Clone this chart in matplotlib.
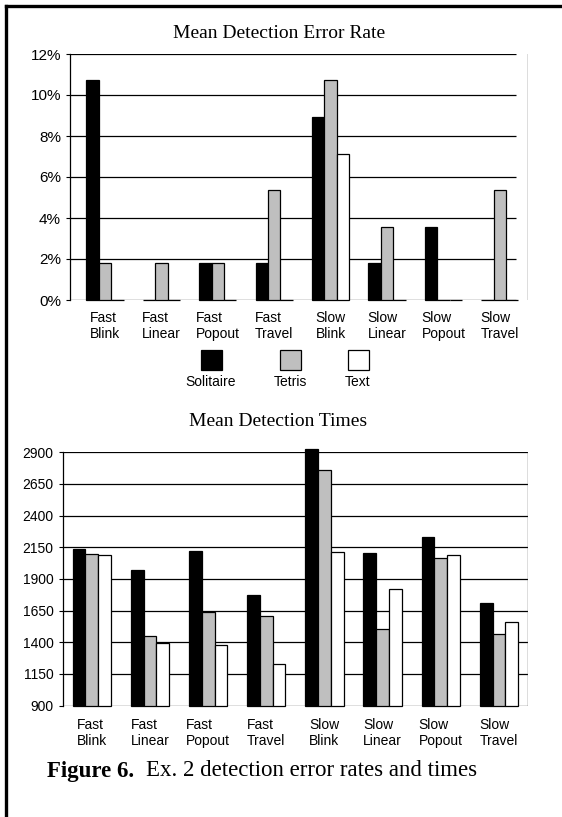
"""
Ex. 2 detection error rates and times (Figure 6): two grouped bar charts
stacked on one page, sharing a hand-drawn legend and a caption.
"""

import matplotlib
matplotlib.use("Agg")
import matplotlib.pyplot as plt
import numpy as np
from matplotlib.lines import Line2D
from matplotlib.patches import Rectangle

plt.rcParams["font.family"] = ["Liberation Sans", "DejaVu Sans"]

categories = ["Fast\nBlink", "Fast\nLinear", "Fast\nPopout", "Fast\nTravel",
              "Slow\nBlink", "Slow\nLinear", "Slow\nPopout", "Slow\nTravel"]
series_names = ["Solitaire", "Tetris", "Text"]

# mean detection error rate, percent
err_solitaire = [10.71, 0, 1.79, 1.79, 8.93, 1.79, 3.57, 0]
err_tetris = [1.79, 1.79, 1.79, 5.36, 10.71, 3.57, 0, 5.36]
err_text = [0, 0, 0, 0, 7.14, 0, 0, 0]

# mean detection times, ms
time_solitaire = [2136, 1968, 2120, 1775, 2926, 2107, 2233, 1707]
time_tetris = [2099, 1449, 1636, 1605, 2760, 1504, 2065, 1462]
time_text = [2086, 1391, 1375, 1228, 2112, 1818, 2086, 1560]

err_ticks = [0, 2, 4, 6, 8, 10, 12]
time_ticks = [900, 1150, 1400, 1650, 1900, 2150, 2400, 2650, 2900]

COLORS = ["black", "#bfbfbf", "white"]
W, H = 562, 817
SERIF = "Liberation Serif"


def px_box(left, right, top, bottom):
    # figure-pixel box -> [l, b, w, h] fractions
    return [left / W, (H - bottom) / H, (right - left) / W, (bottom - top) / H]


def grouped(ax, values, width, base=0):
    x = np.arange(len(categories))
    for i, vals in enumerate(values):
        vals = np.asarray(vals, dtype=float)
        ax.bar(x + (i - 1) * width, vals - base, width, bottom=base,
               color=COLORS[i], edgecolor="black", linewidth=0.9, zorder=3,
               clip_on=False)
    ax.set_xticks(x)
    ax.set_xticklabels(categories, fontsize=10, multialignment="left",
                       linespacing=1.15)
    ax.tick_params(axis="x", length=0)
    ax.tick_params(axis="y", direction="out", length=3, width=0.8, labelsize=10)
    for s in ["top", "right", "bottom"]:
        ax.spines[s].set_visible(False)
    ax.spines["left"].set_linewidth(0.9)


fig = plt.figure(figsize=(W / 100, H / 100), dpi=100)

# page frame (left and top edges only, as cropped)
fig.add_artist(Line2D([6 / W, 6 / W], [0, 1 - 6 / H], transform=fig.transFigure,
                      color="black", linewidth=2.4))
fig.add_artist(Line2D([6 / W, 1], [1 - 6 / H, 1 - 6 / H], transform=fig.transFigure,
                      color="black", linewidth=2.4))

# --- top chart: error rate ---
ax1 = fig.add_axes(px_box(70, 528, 54, 300))
grouped(ax1, [err_solitaire, err_tetris, err_text], 0.22)
ax1.set_xlim(-0.62, 7.5)
ax1.set_ylim(0, 12)
ax1.set_yticks(err_ticks)
ax1.set_yticklabels([f"{t}%" for t in err_ticks])
ax1.tick_params(axis="y", labelsize=11)
ax1.tick_params(axis="x", pad=8)
ax1.hlines(err_ticks, -0.62, 7.29, color="black", linewidth=0.9, zorder=1)
ax1.axvline(7.5, color="#555555", linewidth=1.0)
fig.text(279 / W, 1 - 33 / H, "Mean Detection Error Rate", family=SERIF,
         fontsize=14, ha="center", va="center")

# legend: swatches above the names
leg_x = [211, 290, 358]
for name, color, cx in zip(series_names, COLORS, leg_x):
    fig.add_artist(Rectangle(((cx - 10.5) / W, 1 - 370 / H), 21 / W, 20 / H,
                             transform=fig.transFigure, facecolor=color,
                             edgecolor="black", linewidth=0.9))
    fig.text(cx / W, 1 - 382 / H, name, fontsize=10, ha="center", va="center")

# --- bottom chart: detection times ---
ax2 = fig.add_axes(px_box(62.7, 528, 452.3, 705.5))
grouped(ax2, [time_solitaire, time_tetris, time_text], 0.22, base=900)
ax2.set_xlim(-0.5, 7.5)
ax2.set_ylim(900, 2900)
ax2.set_yticks(time_ticks)
ax2.tick_params(axis="x", pad=9)
ax2.hlines(time_ticks, -0.5, 7.5, color="black", linewidth=0.9, zorder=1)
ax2.axvline(7.5, color="#555555", linewidth=1.0)
fig.text(278 / W, 1 - 421 / H, "Mean Detection Times", family=SERIF,
         fontsize=14, ha="center", va="center")

# caption
fig.text(47 / W, 1 - 771 / H, "Figure 6.", family=SERIF, fontsize=16.5,
         fontweight="bold", ha="left", va="center")
fig.text(146 / W, 1 - 771 / H, "Ex. 2 detection error rates and times",
         family=SERIF, fontsize=16.5, ha="left", va="center")

fig.savefig("out.png", dpi=100)
